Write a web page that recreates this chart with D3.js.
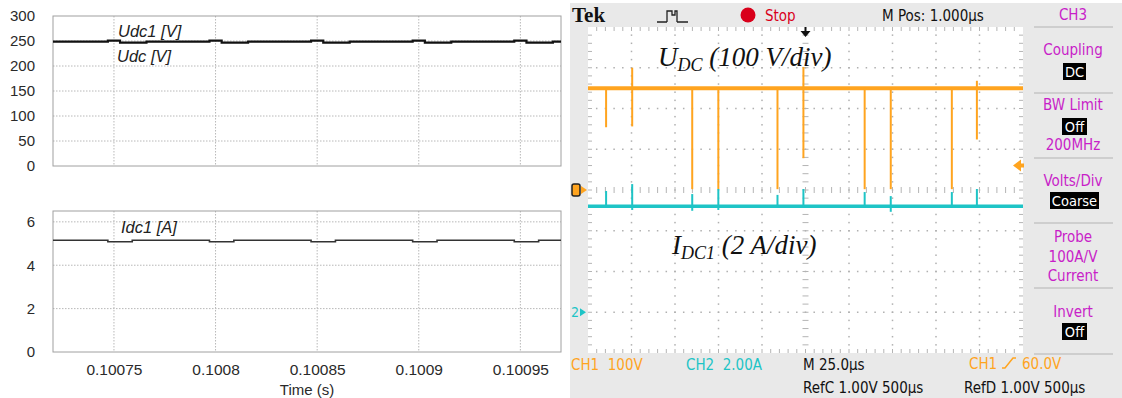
<!DOCTYPE html>
<html>
<head>
<meta charset="utf-8">
<script src="https://cdn.jsdelivr.net/npm/d3@7"></script>
<style>
  body { margin: 0; background: #fff; }
  svg { display: block; }
</style>
</head>
<body>
<svg id="chart" width="1122" height="398"></svg>
<script>
// ---- simulation (left) ----
const timeTicks = [0.10075, 0.1008, 0.10085, 0.1009, 0.10095];
const timeLabels = ["0.10075", "0.1008", "0.10085", "0.1009", "0.10095"];
const udcTicks = [0, 50, 100, 150, 200, 250, 300];
const idcTicks = [0, 2, 4, 6];

// Udc1 / Udc: step waveform (s, V)
const udcTime = [0.10072,
  0.100747, 0.100753, 0.100766,
  0.100797, 0.100803, 0.100816,
  0.100847, 0.100853, 0.100866,
  0.100897, 0.100903, 0.100916,
  0.100947, 0.100953, 0.100966, 0.10097];
const udcValue = [248.6,
  250.6, 246.6, 248.6,
  250.6, 246.6, 248.6,
  250.6, 246.6, 248.6,
  250.6, 246.6, 248.6,
  250.6, 246.6, 248.6, 248.6];

// Idc1 (s, A)
const idcTime = [0.10072,
  0.100747, 0.100759,
  0.100797, 0.100809,
  0.100847, 0.100859,
  0.100897, 0.100909,
  0.100947, 0.100959, 0.10097];
const idcValue = [5.15,
  5.08, 5.15,
  5.08, 5.15,
  5.08, 5.15,
  5.08, 5.15,
  5.08, 5.15, 5.15];

// ---- oscilloscope (right) ----
// time in µs relative to trigger, CH1 in V, CH2 in A
const ch1Base = 250;
const ch2Base = 5.2;
const spikeTime = [-114.6, -99.6, -65.1, -50.1, -16.1, -1.2, 34, 49, 84.1, 98.5];
const ch1High = [250, 300, 252, 252, 252, 302, 252, 252, 252, 268];
const ch1Low = [154, 156, 2, 2, 2, 78, 2, 2, 2, 124];
const ch2High = [5.95, 6.29, 5.8, 6.05, 5.76, 6.05, 5.9, 5.7, 5.9, 6.05];
const ch2Low = [5.2, 5.02, 4.98, 5.02, 5.17, 5.12, 5.15, 4.93, 5.15, 5.12];
const trigLevel = 60;

const svg = d3.select("#chart");
const sans = "'Liberation Sans', Arial, sans-serif";
const scopeFont = "'DejaVu Sans Condensed', 'DejaVu Sans', sans-serif";

// Left plots
const x = d3.scaleLinear().domain([0.10072, 0.10097]).range([53, 561]);
const yU = d3.scaleLinear().domain([0, 300]).range([166, 16]);
const yI = d3.scaleLinear().domain([0, 6.5]).range([352, 211]);

function panel(y, ticks, gridTicks) {
  const g = svg.append("g");
  const [yb, yt] = y.range();
  // grid
  g.selectAll(".vg").data(timeTicks).enter().append("line")
    .attr("x1", d => x(d)).attr("x2", d => x(d))
    .attr("y1", yt).attr("y2", yb)
    .attr("stroke", "#b8b8b8").attr("stroke-dasharray", "1.5,1.5");
  g.selectAll(".hg").data(gridTicks).enter().append("line")
    .attr("x1", x.range()[0]).attr("x2", x.range()[1])
    .attr("y1", d => y(d)).attr("y2", d => y(d))
    .attr("stroke", "#b8b8b8").attr("stroke-dasharray", "1.5,1.5");
  g.append("rect")
    .attr("x", x.range()[0]).attr("y", yt)
    .attr("width", x.range()[1] - x.range()[0]).attr("height", yb - yt)
    .attr("fill", "none").attr("stroke", "#a0a0a0");
  // y axis
  const ax = g.append("g").attr("transform", `translate(${x.range()[0]},0)`)
    .call(d3.axisLeft(y).tickValues(ticks).tickSize(0).tickPadding(18).tickFormat(d3.format("d")));
  ax.select(".domain").remove();
  ax.selectAll("text").attr("font-family", sans).attr("font-size", 15).attr("fill", "#2a2a2a");
  return g;
}

const topG = panel(yU, udcTicks, [50, 100, 150, 200, 250]);
const botG = panel(yI, idcTicks, [2, 4, 6]);

const udcLine = d3.line().curve(d3.curveStepAfter)
  .x((d, i) => x(udcTime[i])).y(d => yU(d));
topG.append("path").datum(udcValue).attr("d", udcLine)
  .attr("fill", "none").attr("stroke", "#111").attr("stroke-width", 2.2);

const idcLine = d3.line().curve(d3.curveStepAfter)
  .x((d, i) => x(idcTime[i])).y(d => yI(d));
botG.append("path").datum(idcValue).attr("d", idcLine)
  .attr("fill", "none").attr("stroke", "#333").attr("stroke-width", 1.6);

const xa = svg.append("g").attr("transform", "translate(0,352)")
  .call(d3.axisBottom(x).tickValues(timeTicks).tickSize(0).tickPadding(12)
    .tickFormat((d, i) => timeLabels[i]));
xa.select(".domain").remove();
xa.selectAll("text").attr("font-family", sans).attr("font-size", 15.5).attr("fill", "#2a2a2a");

svg.append("text").attr("x", 307).attr("y", 395).attr("text-anchor", "middle")
  .attr("font-family", sans).attr("font-size", 15).attr("fill", "#2a2a2a").text("Time (s)");

const lab = [["Udc1 [V]", 118, 37], ["Udc [V]", 117, 62], ["Idc1 [A]", 121, 233]];
svg.selectAll(".lab").data(lab).enter().append("text")
  .attr("x", d => d[1]).attr("y", d => d[2])
  .attr("font-family", sans).attr("font-size", 16.5).attr("font-style", "italic")
  .attr("fill", "#222").text(d => d[0]);

// ---- Oscilloscope ----
const sc = svg.append("g");
sc.append("rect").attr("x", 570).attr("y", 3).attr("width", 552).attr("height", 395).attr("fill", "#e9e9e9");
const xs = d3.scaleLinear().domain([-125, 125]).range([588, 1023]);
const ys = d3.scaleLinear().domain([-4, 4]).range([353, 27]);
const yc1 = v => ys(v / 100);
const yc2 = a => ys(a / 2 - 3);
sc.append("rect").attr("x", xs(-125)).attr("y", ys(4))
  .attr("width", xs(125) - xs(-125)).attr("height", ys(-4) - ys(4)).attr("fill", "#fff");

// grid dots
const dotColor = "#b0b0b0";
const vDiv = d3.range(1, 10).filter(i => i !== 5).map(i => -125 + 25 * i);
const hDiv = d3.range(1, 8).filter(i => i !== 4).map(i => -4 + i);
const minorY = d3.range(1, 40).map(j => -4 + j / 5);
const minorX = d3.range(1, 50).map(j => -125 + j * 5);
vDiv.forEach(t => {
  sc.append("g").selectAll("rect").data(minorY).enter().append("rect")
    .attr("x", xs(t) - 0.75).attr("y", d => ys(d) - 0.75).attr("width", 1.5).attr("height", 1.5).attr("fill", dotColor);
});
hDiv.forEach(v => {
  sc.append("g").selectAll("rect").data(minorX).enter().append("rect")
    .attr("x", d => xs(d) - 0.75).attr("y", ys(v) - 0.75).attr("width", 1.5).attr("height", 1.5).attr("fill", dotColor);
});
// centre axes and edge ticks
const tickC = "#b4b4b4";
sc.append("g").selectAll("line").data(minorX).enter().append("line")
  .attr("x1", d => xs(d)).attr("x2", d => xs(d)).attr("y1", ys(0) - 3).attr("y2", ys(0) + 3)
  .attr("stroke", tickC);
sc.append("g").selectAll("line").data(minorY).enter().append("line")
  .attr("y1", d => ys(d)).attr("y2", d => ys(d)).attr("x1", xs(0) - 3).attr("x2", xs(0) + 3)
  .attr("stroke", tickC);
sc.append("g").selectAll("line").data(minorX).enter().append("line")
  .attr("x1", d => xs(d)).attr("x2", d => xs(d)).attr("y1", ys(4)).attr("y2", ys(4) + 4).attr("stroke", tickC);
sc.append("g").selectAll("line").data(minorX).enter().append("line")
  .attr("x1", d => xs(d)).attr("x2", d => xs(d)).attr("y1", ys(-4)).attr("y2", ys(-4) - 4).attr("stroke", tickC);
sc.append("g").selectAll("line").data(minorY).enter().append("line")
  .attr("y1", d => ys(d)).attr("y2", d => ys(d)).attr("x1", xs(-125)).attr("x2", xs(-125) + 4).attr("stroke", tickC);
sc.append("g").selectAll("line").data(minorY).enter().append("line")
  .attr("y1", d => ys(d)).attr("y2", d => ys(d)).attr("x1", xs(125)).attr("x2", xs(125) - 4).attr("stroke", tickC);

// traces
const orange = "#ffa41f", cyan = "#1ec4c6", magenta = "#c81ec8";
sc.append("line").attr("x1", xs(-125)).attr("x2", xs(125))
  .attr("y1", yc1(ch1Base)).attr("y2", yc1(ch1Base))
  .attr("stroke", orange).attr("stroke-width", 4);
sc.append("g").selectAll("line").data(spikeTime).enter().append("line")
  .attr("x1", d => xs(d)).attr("x2", d => xs(d))
  .attr("y1", (d, i) => yc1(ch1High[i])).attr("y2", (d, i) => yc1(ch1Low[i]))
  .attr("stroke", orange).attr("stroke-width", 2);
sc.append("line").attr("x1", xs(-125)).attr("x2", xs(125))
  .attr("y1", yc2(ch2Base)).attr("y2", yc2(ch2Base))
  .attr("stroke", cyan).attr("stroke-width", 3.5);
sc.append("g").selectAll("line").data(spikeTime).enter().append("line")
  .attr("x1", d => xs(d)).attr("x2", d => xs(d))
  .attr("y1", (d, i) => yc2(ch2High[i])).attr("y2", (d, i) => yc2(ch2Low[i]))
  .attr("stroke", cyan).attr("stroke-width", 2);

// markers
sc.append("path").attr("d", `M${xs(0) - 5},${ys(4) + 4} h10 l-5,6 z M${xs(0) - 1},${ys(4)} h2 v5 h-2 z`).attr("fill", "#111");
const ty = yc1(trigLevel);
sc.append("path").attr("d", `M1013,${ty} l8,-6 v4 h3 v4 h-3 v4 z`).attr("fill", orange);
sc.append("rect").attr("x", 572).attr("y", ys(0) - 6).attr("width", 8).attr("height", 12).attr("rx", 2)
  .attr("fill", orange).attr("stroke", "#222").attr("stroke-width", 1.5);
sc.append("path").attr("d", `M581,${ys(0) - 4} l6,4 l-6,4 z`).attr("fill", orange);
sc.append("text").attr("x", 571).attr("y", yc2(0) + 5).attr("font-family", scopeFont).attr("font-size", 14)
  .attr("fill", cyan).text("2");
sc.append("path").attr("d", `M580,${yc2(0) - 4} l6,4 l-6,4 z`).attr("fill", cyan);

// header
sc.append("text").attr("x", 572).attr("y", 22).attr("font-family", "'Liberation Serif', serif")
  .attr("font-weight", "bold").attr("font-size", 21).attr("fill", "#111").text("Tek");
sc.append("path").attr("d", "M657,22 h10 M667,22 V11 h5 v4 h3 V11 h2 v11 M677,22 h11")
  .attr("fill", "none").attr("stroke", "#222").attr("stroke-width", 1.3);
sc.append("circle").attr("cx", 748).attr("cy", 15).attr("r", 7.5).attr("fill", "#d9001b");
sc.append("text").attr("x", 765).attr("y", 21).attr("font-family", scopeFont).attr("font-size", 15)
  .attr("fill", "#d9001b").text("Stop");
sc.append("text").attr("x", 882).attr("y", 21).attr("font-family", scopeFont).attr("font-size", 15)
  .attr("fill", "#111").text("M Pos: 1.000µs");

// side menu
const sepY = [27, 93, 158, 223, 288, 354];
sc.selectAll(".sep").data(sepY).enter().append("line")
  .attr("x1", 1034).attr("x2", 1113).attr("y1", d => d).attr("y2", d => d)
  .attr("stroke", "#c4c4c4").attr("stroke-width", 1.5);
const menuText = [["CH3", 20], ["Coupling", 55], ["BW Limit", 110], ["200MHz", 150], ["Volts/Div", 186],
  ["Probe", 242], ["100A/V", 262], ["Current", 281], ["Invert", 317]];
sc.selectAll(".mt").data(menuText).enter().append("text")
  .attr("x", 1073).attr("y", d => d[1]).attr("text-anchor", "middle")
  .attr("font-family", scopeFont).attr("font-size", 15).attr("fill", magenta).text(d => d[0]);
const boxes = [["DC", 63, 23], ["Off", 118, 25], ["Coarse", 192, 49], ["Off", 323, 25]];
boxes.forEach(([t, by, w]) => {
  sc.append("rect").attr("x", 1074.5 - w / 2).attr("y", by).attr("width", w).attr("height", 17).attr("fill", "#000");
  sc.append("text").attr("x", 1074.5).attr("y", by + 13.5).attr("text-anchor", "middle")
    .attr("font-family", scopeFont).attr("font-size", 14.5).attr("fill", "#fff").text(t);
});

// footer
const foot = [["CH1  100V", 571, 370, orange], ["CH2  2.00A", 686, 370, cyan], ["M 25.0µs", 803, 370, "#111"],
  ["CH1", 969, 369, orange], ["60.0V", 1022, 369, orange],
  ["RefC 1.00V 500µs", 803, 393, "#111"], ["RefD 1.00V 500µs", 964, 393, "#111"]];
sc.selectAll(".ft").data(foot).enter().append("text")
  .attr("x", d => d[1]).attr("y", d => d[2]).attr("font-family", scopeFont).attr("font-size", 15)
  .attr("fill", d => d[3]).attr("xml:space", "preserve").style("white-space", "pre").text(d => d[0]);
sc.append("path").attr("d", "M1002,368 h3 l8,-10 h3").attr("fill", "none").attr("stroke", orange).attr("stroke-width", 1.5);

// annotations
const serif = "'Liberation Serif', 'Times New Roman', serif";
const a1 = sc.append("text").attr("x", 658).attr("y", 66).attr("font-family", serif)
  .attr("font-style", "italic").attr("font-size", 27).attr("fill", "#111");
a1.append("tspan").text("U");
a1.append("tspan").attr("font-size", 18).attr("dy", 5).text("DC");
a1.append("tspan").attr("dy", -5).text(" (100 V/div)");
const a2 = sc.append("text").attr("x", 672).attr("y", 254).attr("font-family", serif)
  .attr("font-style", "italic").attr("font-size", 27).attr("fill", "#111");
a2.append("tspan").text("I");
a2.append("tspan").attr("font-size", 18).attr("dy", 5).text("DC1");
a2.append("tspan").attr("dy", -5).text(" (2 A/div)");
</script>
</body>
</html>
